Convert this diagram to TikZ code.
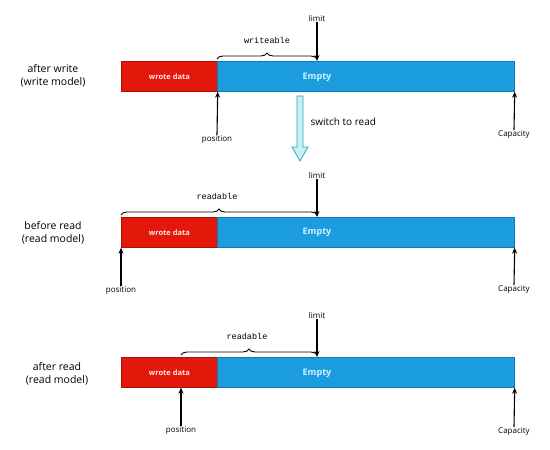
\documentclass[tikz,border=0pt]{standalone}
\usepackage{fontspec}
\setmainfont{Open Sans}
\newfontfamily\monof{Liberation Mono}
\usetikzlibrary{decorations.pathreplacing,arrows.meta}
\definecolor{bred}{HTML}{E3170A}
\definecolor{bblue}{HTML}{1C9DDF}
\definecolor{bblueline}{HTML}{1478B0}
\definecolor{emptytxt}{HTML}{D2F4FF}
\definecolor{wrotetxt}{HTML}{FFE8E8}
\definecolor{swfill}{HTML}{C5F0F4}
\definecolor{swline}{HTML}{2BA7B5}
\begin{document}
\begin{tikzpicture}[x=1pt,y=-1pt,
  redbar/.style={draw=bred!75!black, fill=bred, line width=0.7pt, minimum height=30pt, minimum width=96pt, inner sep=0pt, anchor=north west, text=wrotetxt, font=\fontsize{7.5}{8}\selectfont\bfseries},
  bluebar/.style={draw=bblueline, fill=bblue, line width=0.7pt, minimum height=30pt, minimum width=297pt, inner sep=0pt, anchor=north west},
  emptytext/.style={text=emptytxt, font=\fontsize{9}{10}\selectfont\bfseries, inner sep=0pt},
  side/.style={align=center, font=\fontsize{10.5}{13}\selectfont},
  ptr/.style={-{Stealth[length=6pt,width=5pt]}, line width=1.1pt},
  small/.style={font=\fontsize{8}{9}\selectfont, inner sep=1pt},
  brc/.style={decorate, decoration={brace, amplitude=6pt}, line width=0.9pt},
  mono/.style={font=\monof\fontsize{8.5}{9}\selectfont, inner sep=1pt}
]
\useasboundingbox[fill=white] (0,0) rectangle (550,450);

% ---------- row 1 ----------
\node[side] (t1) at (53,76) {after write\\(write model)};
\node[redbar] (r1) at (121,61) {wrote data};
\node[bluebar] (b1) at (217,61) {};
\node[emptytext] (e1) at (317,77) {Empty};
\coordinate (w1a) at (217,59);
\coordinate (w1b) at (317,59);
\draw[brc] (w1a) -- (w1b);
\node[mono] (wr1) at (267,40) {writeable};
\node[small] (l1) at (317,18) {limit};
\draw[ptr] (l1.south) -- ([xshift=100pt]b1.north west);
\node[small] (p1) at (217,140) {position};
\draw[ptr] (p1.north) -- (r1.south east);
\node[small] (c1) at (514,135) {Capacity};
\draw[ptr] (c1.north) -- (b1.south east);

% switch arrow
\draw[fill=swfill, draw=swline, line width=0.8pt] (297,96) -- (303,96) -- (303,147) -- (308,147) -- (300,161) -- (292,147) -- (297,147) -- cycle;
\node[anchor=west, font=\fontsize{10}{11}\selectfont] (sw) at (307,122) {switch to read};

% ---------- row 2 ----------
\node[side] (t2) at (53,233) {before read\\(read model)};
\node[redbar] (r2) at (121,217) {wrote data};
\node[bluebar] (b2) at (217,217) {};
\node[emptytext] (e2) at (317,232) {Empty};
\coordinate (w2a) at (121,215);
\coordinate (w2b) at (317,215);
\draw[brc] (w2a) -- (w2b);
\node[mono] (rd2) at (217,196) {readable};
\node[small] (l2) at (317,175) {limit};
\draw[ptr] (l2.south) -- ([xshift=100pt]b2.north west);
\node[small] (p2) at (121,291) {position};
\draw[ptr] (p2.north) -- (r2.south west);
\node[small] (c2) at (514,290) {Capacity};
\draw[ptr] (c2.north) -- (b2.south east);

% ---------- row 3 ----------
\node[side] (t3) at (57,374) {after read\\(read model)};
\node[redbar] (r3) at (121,357) {wrote data};
\node[bluebar] (b3) at (217,357) {};
\node[emptytext] (e3) at (317,373) {Empty};
\coordinate (w3a) at (181,355);
\coordinate (w3b) at (317,355);
\draw[brc] (w3a) -- (w3b);
\node[mono] (rd3) at (247,336) {readable};
\node[small] (l3) at (317,315) {limit};
\draw[ptr] (l3.south) -- ([xshift=100pt]b3.north west);
\node[small] (p3) at (181,431) {position};
\draw[ptr] (p3.north) -- ([xshift=60pt]r3.south west);
\node[small] (c3) at (514,432) {Capacity};
\draw[ptr] (c3.north) -- (b3.south east);
\end{tikzpicture}
\end{document}
